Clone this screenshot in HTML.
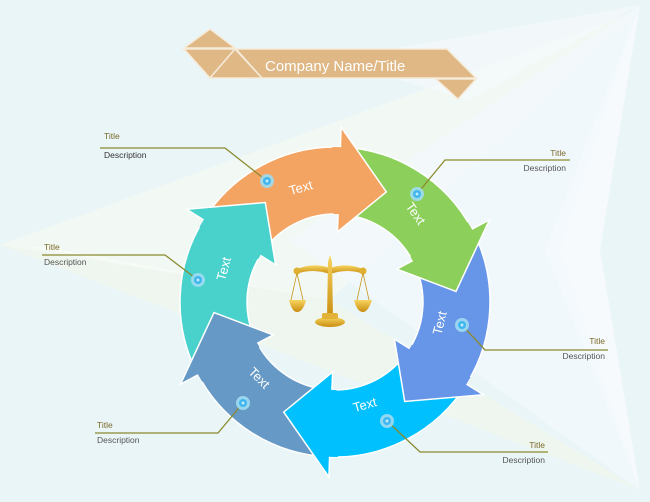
<!DOCTYPE html>
<html><head><meta charset="utf-8"><style>
html,body{margin:0;padding:0;background:#eaf5f8;}
svg{display:block;font-family:"Liberation Sans",sans-serif;}
</style></head><body>
<svg id="s" width="650" height="502" viewBox="0 0 650 502" xmlns="http://www.w3.org/2000/svg">
<rect width="650" height="502" fill="#eaf5f8"/>
<polygon points="0,245 640,10 330,300" fill="#f3f8f2" opacity="0.9"/>
<polygon points="0,245 330,300 640,490" fill="#f0f6ee" opacity="0.9"/>
<polygon points="640,5 545,250 640,490 600,250" fill="#f6fafc"/>
<polygon points="640,5 290,240 640,490 560,250" fill="#f3f9fc" opacity="0.8"/>
<polygon points="20,245 330,300 60,250" fill="#fafcf6"/>
<polygon points="330,60 640,5 470,100" fill="#f4f9fa" opacity="0.8"/>
<g id="arrows"></g>
<g fill="#fff" font-size="13" text-anchor="middle">
<text transform="translate(302,192) rotate(-16)">Text</text>
<text transform="translate(412,216) rotate(55)">Text</text>
<text transform="translate(444,324) rotate(-76)">Text</text>
<text transform="translate(366,409) rotate(-16)">Text</text>
<text transform="translate(256,381) rotate(45)">Text</text>
<text transform="translate(228,270) rotate(-75)">Text</text>
</g>
<g stroke="#8a8a2e" stroke-width="1.3" fill="none">
<polyline points="267,181 225,148 100,148"/>
<polyline points="417,194 445,160 570,160"/>
<polyline points="462,325 485,350 608,350"/>
<polyline points="387,421 420,452 548,452"/>
<polyline points="243,403 218,433 95,433"/>
<polyline points="198,280 165,255 42,255"/>
</g>
<g id="dots"></g>
<g font-size="8.5">
<text x="104" y="139" fill="#7a6a2a">Title</text><text x="104" y="158" fill="#333">Description</text>
<text x="566" y="156" fill="#7a6a2a" text-anchor="end">Title</text><text x="566" y="171" fill="#555" text-anchor="end">Description</text>
<text x="605" y="344" fill="#7a6a2a" text-anchor="end">Title</text><text x="605" y="359" fill="#555" text-anchor="end">Description</text>
<text x="545" y="448" fill="#7a6a2a" text-anchor="end">Title</text><text x="545" y="463" fill="#555" text-anchor="end">Description</text>
<text x="97" y="428" fill="#7a6a2a">Title</text><text x="97" y="443" fill="#555">Description</text>
<text x="44" y="250" fill="#7a6a2a">Title</text><text x="44" y="265" fill="#555">Description</text>
</g>
<g fill="#dfb886" stroke="#f6ead8" stroke-width="1.5">
<polygon points="184,48 210,29 235,48"/>
<polygon points="184,49 235,49 210,78"/>
<polygon points="235,49 262,78 210,78"/>
<polygon points="236,49 447,49 476,78 262,78"/>
<polygon points="436,79 476,79 458,99"/>
</g>
<text x="265" y="71" fill="#fff" font-size="15">Company Name/Title</text>
<g>
<defs><linearGradient id="gd" x1="0" y1="0" x2="0" y2="1"><stop offset="0" stop-color="#f7d560"/><stop offset="1" stop-color="#c98d10"/></linearGradient></defs>
<path d="M295,270 Q312,262 330,268 Q348,262 365,270 L364,274 Q348,268 330,274 Q312,268 296,274Z" fill="url(#gd)"/>
<circle cx="297" cy="271" r="3.5" fill="#e0b030"/><circle cx="363" cy="271" r="3.5" fill="#e0b030"/>
<path d="M328,262 L330,255 L332,262 L333,318 L327,318Z" fill="url(#gd)"/>
<g stroke="#c9961c" stroke-width="0.8"><line x1="297" y1="273" x2="291" y2="300"/><line x1="297" y1="273" x2="303" y2="300"/><line x1="363" y1="273" x2="357" y2="300"/><line x1="363" y1="273" x2="369" y2="300"/></g>
<path d="M289,300 L306,300 Q303,312 297,312 Q292,312 289,300Z" fill="url(#gd)"/>
<path d="M354,300 L372,300 Q368,312 363,312 Q357,312 354,300Z" fill="url(#gd)"/>
<ellipse cx="330" cy="322" rx="15" ry="5" fill="url(#gd)"/>
<rect x="322" y="313" width="16" height="6" rx="2" fill="#e3b238"/>
</g>
</svg>
<script>
var cx=335,cy=302,R=155,r=88,HR=175,hr=70,M=(R+r)/2;
function p(a,rad){var t=(a-90)*Math.PI/180;return (cx+rad*Math.cos(t)).toFixed(1)+","+(cy+rad*Math.sin(t)).toFixed(1);}
var cols=["#f4a462","#8ccf5a","#6796e9","#00c0fe","#6699c5","#49d1cc"];
var g=document.getElementById("arrows"),h="",hh="";
for(var i=0;i<6;i++){var s=-58+60*i,b=s+60,t=b+23;
var d="M"+p(s,R)+" A"+R+","+R+" 0 0 1 "+p(b,R)+" L"+p(b,r)+" A"+r+","+r+" 0 0 0 "+p(s,r)+" Z";
h+='<path d="'+d+'" fill="'+cols[i]+'" stroke="#fff" stroke-width="1.5"/>';
var hd="M"+p(b-3,R)+" L"+p(b,R)+" L"+p(b,HR)+" L"+p(t,M)+" L"+p(b,hr)+" L"+p(b,r)+" L"+p(b-3,r)+" Z";
hh+='<path d="'+hd+'" fill="'+cols[i]+'"/>';
hh+='<polyline points="'+p(b,R)+" "+p(b,HR)+" "+p(t,M)+" "+p(b,hr)+" "+p(b,r)+'" fill="none" stroke="#fff" stroke-width="1.5"/>';}
g.innerHTML=h+hh;
var dots=[[267,181],[417,194],[462,325],[387,421],[243,403],[198,280]],dh="";
dots.forEach(function(q){dh+='<circle cx="'+q[0]+'" cy="'+q[1]+'" r="7" fill="#9fdcf2" opacity="0.9"/><circle cx="'+q[0]+'" cy="'+q[1]+'" r="4" fill="#3fb6ee"/><circle cx="'+q[0]+'" cy="'+q[1]+'" r="1.5" fill="#bfeaff"/>';});
document.getElementById("dots").innerHTML=dh;
</script>
</body></html>
